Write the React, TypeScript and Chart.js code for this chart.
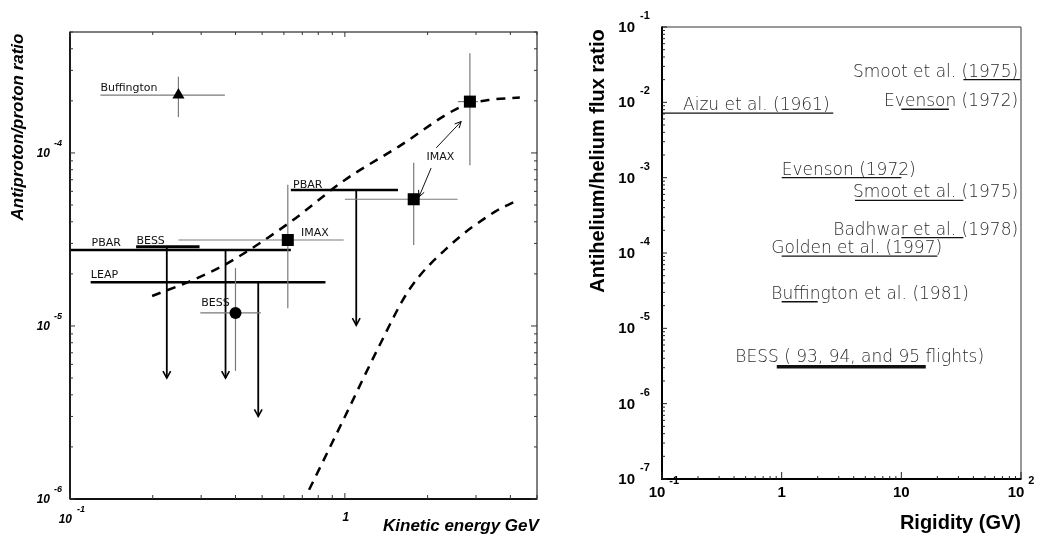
import React, { useEffect, useRef } from "react";
import { Chart, registerables } from "chart.js";

Chart.register(...registerables);

// ================= LEFT PANEL: antiproton / proton ratio =================
// Dashed model curves (kinetic energy GeV, ratio)
const upperCurveE = [0.199, 0.28, 0.368, 0.627, 1.0, 1.57, 2.65, 3.32, 4.33];
const upperCurveR = [1.49e-5, 1.845e-5, 2.27e-5, 3.94e-5, 6.98e-5, 1.088e-4, 1.85e-4, 2.02e-4, 2.09e-4];
const lowerCurveE = [0.741, 1.0, 1.33, 1.71, 2.38, 3.52, 4.15];
const lowerCurveR = [1.13e-6, 2.99e-6, 7.6e-6, 1.61e-5, 2.87e-5, 4.58e-5, 5.23e-5];

// Measurements with error bars
const measNames = ["Buffington", "IMAX", "IMAX", "IMAX", "BESS"];
const measE = [0.248, 2.85, 1.78, 0.62, 0.4];
const measR = [2.16e-4, 1.98e-4, 5.4e-5, 3.14e-5, 1.19e-5];
const measElo = [0.129, 2.58, 1.0, 0.248, 0.298];
const measEhi = [0.366, 3.05, 2.57, 0.99, 0.495];
const measRlo = [1.61e-4, 8.5e-5, 2.94e-5, 1.266e-5, 5.5e-6];
const measRhi = [2.76e-4, 3.77e-4, 8.79e-5, 6.54e-5, 2.16e-5];
const measShape = ["triangle", "rect", "rect", "rect", "circle"];

// Upper limits (horizontal bar + downward arrow)
const limNames = ["PBAR", "BESS", "LEAP", "PBAR"];
const limElo = [0.1, 0.174, 0.1189, 0.636];
const limEhi = [0.636, 0.296, 0.85, 1.56];
const limR = [2.75e-5, 2.87e-5, 1.79e-5, 6.11e-5];
const limArrowE = [0.368, 0.225, 0.484, 1.1];
const limArrowTip = [5.0e-6, 5.0e-6, 3.0e-6, 1.01e-5];

// IMAX pointer arrows (from label to points)
const pointerFromE = [2.15, 2.06];
const pointerFromR = [1.07e-4, 8.19e-5];
const pointerToE = [2.65, 1.86];
const pointerToR = [1.52e-4, 5.57e-5];

// Text annotations (anchor in data coordinates, left-aligned)
const leftTextItems = [
  { t: "Buffington", e: 0.129, r: 2.38e-4 },
  { t: "PBAR", e: 0.1198, r: 3.02e-5 },
  { t: "BESS", e: 0.1744, r: 3.1e-5 },
  { t: "LEAP", e: 0.1191, r: 1.97e-5 },
  { t: "BESS", e: 0.3, r: 1.35e-5 },
  { t: "IMAX", e: 0.693, r: 3.45e-5 },
  { t: "PBAR", e: 0.648, r: 6.54e-5 },
  { t: "IMAX", e: 1.98, r: 9.48e-5 },
];

const leftXMin = 0.1, leftXMax = 5;
const leftYMin = 1e-6, leftYMax = 5e-4;
const leftYMajor = [1e-6, 1e-5, 1e-4];
const leftYMajorExp = ["-6", "-5", "-4"];

// ================= RIGHT PANEL: antihelium / helium flux ratio =================
const heNames = [
  "Smoot et al. (1975)",
  "Evenson (1972)",
  "Aizu et al. (1961)",
  "Evenson (1972)",
  "Smoot et al. (1975)",
  "Badhwar et al. (1978)",
  "Golden et al. (1997)",
  "Buffington et al. (1981)",
  "BESS ( 93, 94, and 95 flights)",
];
const heRigLo = [33, 10, 0.1, 1, 4.1, 10, 1, 1, 0.91];
const heRigHi = [100, 25, 2.7, 10, 33, 33, 20, 2, 16];
const heRatio = [2.0e-2, 8.1e-3, 7.2e-3, 1.0e-3, 5.0e-4, 1.6e-4, 9.1e-5, 2.25e-5, 3.1e-6];
const heLabelX = [94.6, 94.6, 0.15, 1.0, 94.6, 94.6, 0.82, 0.82, 0.41];
const heLabelAlign = ["right", "right", "left", "left", "right", "right", "left", "left", "left"];

const rightXMin = 0.1, rightXMax = 100;
const rightYMin = 1e-7, rightYMax = 1e-1;
const rightXMajor = [0.1, 1, 10, 100];
const rightXMajorBase = ["10", "1", "10", "10"];
const rightXMajorExp = ["-1", "", "", "2"];
const rightYMajor = [1e-7, 1e-6, 1e-5, 1e-4, 1e-3, 1e-2, 1e-1];
const rightYMajorExp = ["-7", "-6", "-5", "-4", "-3", "-2", "-1"];

// ================= helpers =================
function logTicks(min: number, max: number) {
  const out: { v: number; major: boolean }[] = [];
  for (let e = Math.floor(Math.log10(min)) - 1; e <= Math.ceil(Math.log10(max)); e++) {
    for (let m = 1; m < 10; m++) {
      const v = m * Math.pow(10, e);
      if (v >= min * 0.999 && v <= max * 1.001) out.push({ v, major: m === 1 });
    }
  }
  return out;
}

function seg(x1: number, y1: number, x2: number, y2: number, color: string, width: number, extra: any = {}) {
  return {
    data: [
      { x: x1, y: y1 },
      { x: x2, y: y2 },
    ],
    showLine: true,
    borderColor: color,
    borderWidth: width,
    pointRadius: 0,
    borderCapStyle: "butt",
    ...extra,
  };
}

function line(ctx: CanvasRenderingContext2D, x1: number, y1: number, x2: number, y2: number) {
  ctx.beginPath();
  ctx.moveTo(x1, y1);
  ctx.lineTo(x2, y2);
  ctx.stroke();
}

function arrowHead(ctx: CanvasRenderingContext2D, fx: number, fy: number, tx: number, ty: number, len: number, half: number) {
  const ang = Math.atan2(ty - fy, tx - fx);
  const a1 = ang + Math.PI - half;
  const a2 = ang + Math.PI + half;
  ctx.beginPath();
  ctx.moveTo(tx + len * Math.cos(a1), ty + len * Math.sin(a1));
  ctx.lineTo(tx, ty);
  ctx.lineTo(tx + len * Math.cos(a2), ty + len * Math.sin(a2));
  ctx.stroke();
}

function leftConfig(): any {
  const datasets: any[] = [];
  // markers on top
  datasets.push({
    data: measE.map((e, i) => ({ x: e, y: measR[i] })),
    showLine: false,
    pointStyle: measShape,
    pointRadius: measShape.map((s) => (s === "rect" ? 8.5 : s === "triangle" ? 7 : 6)),
    backgroundColor: "#000",
    borderColor: "#000",
    borderWidth: 0,
  });
  // error bars
  measE.forEach((e, i) => {
    datasets.push(seg(measElo[i], measR[i], measEhi[i], measR[i], "#7a7a7a", 1.2));
    datasets.push(seg(e, measRlo[i], e, measRhi[i], "#7a7a7a", 1.2));
  });
  // upper limits
  limElo.forEach((lo, i) => {
    datasets.push(seg(lo, limR[i], limEhi[i], limR[i], "#000", i === 1 ? 3 : 2.4));
    datasets.push(seg(limArrowE[i], limR[i], limArrowE[i], limArrowTip[i], "#000", 1.8));
  });
  // IMAX pointers
  pointerFromE.forEach((e, i) => {
    datasets.push(seg(e, pointerFromR[i], pointerToE[i], pointerToR[i], "#111", 1));
  });
  // dashed curves
  datasets.push({
    data: upperCurveE.map((e, i) => ({ x: e, y: upperCurveR[i] })),
    showLine: true,
    borderColor: "#000",
    borderWidth: 2.5,
    borderDash: [9, 7],
    pointRadius: 0,
    cubicInterpolationMode: "monotone",
  });
  datasets.push({
    data: lowerCurveE.map((e, i) => ({ x: e, y: lowerCurveR[i] })),
    showLine: true,
    borderColor: "#000",
    borderWidth: 2.5,
    borderDash: [9, 7],
    pointRadius: 0,
    cubicInterpolationMode: "monotone",
  });

  const deco = {
    id: "leftDeco",
    afterDatasetsDraw(chart: any) {
      const ctx: CanvasRenderingContext2D = chart.ctx;
      const a = chart.chartArea;
      const x = chart.scales.x;
      const y = chart.scales.y;
      ctx.save();
      // arrowheads for upper limits
      ctx.strokeStyle = "#000";
      ctx.lineWidth = 1.6;
      limArrowE.forEach((e, i) => {
        const px = x.getPixelForValue(e);
        const py = y.getPixelForValue(limArrowTip[i]);
        const py0 = y.getPixelForValue(limR[i]);
        arrowHead(ctx, px, py0, px, py, 8, 0.5);
      });
      // pointer arrowheads
      ctx.lineWidth = 1;
      pointerFromE.forEach((e, i) => {
        arrowHead(
          ctx,
          x.getPixelForValue(e),
          y.getPixelForValue(pointerFromR[i]),
          x.getPixelForValue(pointerToE[i]),
          y.getPixelForValue(pointerToR[i]),
          7,
          0.45
        );
      });
      // frame
      ctx.strokeStyle = "#555";
      ctx.lineWidth = 1.5;
      ctx.strokeRect(a.left, a.top, a.right - a.left, a.bottom - a.top);
      ctx.strokeStyle = "#111";
      ctx.lineWidth = 1.8;
      line(ctx, a.left, a.top, a.left, a.bottom);
      line(ctx, a.left, a.bottom, a.right, a.bottom);
      // ticks
      ctx.lineWidth = 1;
      ctx.strokeStyle = "#333";
      logTicks(leftXMin, leftXMax).forEach((t) => {
        const px = x.getPixelForValue(t.v);
        line(ctx, px, a.bottom, px, a.bottom - (t.major ? 6 : 4));
        line(ctx, px, a.top, px, a.top + (t.major ? 5 : 3));
      });
      logTicks(leftYMin, leftYMax).forEach((t) => {
        const py = y.getPixelForValue(t.v);
        line(ctx, a.left, py, a.left + (t.major ? 5 : 3), py);
        line(ctx, a.right, py, a.right - (t.major ? 6 : 3), py);
      });
      // tick labels
      ctx.fillStyle = "#000";
      ctx.textBaseline = "middle";
      leftYMajor.forEach((v, i) => {
        const py = y.getPixelForValue(v);
        ctx.font = "italic bold 12px 'Liberation Sans', Arial, sans-serif";
        ctx.textAlign = "right";
        ctx.fillText("10", a.left - 20, py + 1);
        ctx.font = "italic bold 9px 'Liberation Sans', Arial, sans-serif";
        ctx.textAlign = "left";
        ctx.fillText(leftYMajorExp[i], a.left - 16, py - 9);
      });
      {
        const px = x.getPixelForValue(0.1);
        ctx.font = "italic bold 12px 'Liberation Sans', Arial, sans-serif";
        ctx.textAlign = "right";
        ctx.fillText("10", px + 2, a.bottom + 21);
        ctx.font = "italic bold 9px 'Liberation Sans', Arial, sans-serif";
        ctx.textAlign = "left";
        ctx.fillText("-1", px + 7, a.bottom + 11);
        const p1 = x.getPixelForValue(1);
        ctx.font = "italic bold 12px 'Liberation Sans', Arial, sans-serif";
        ctx.textAlign = "center";
        ctx.fillText("1", p1 + 1, a.bottom + 19);
      }
      // axis titles
      ctx.font = "italic bold 17px 'Liberation Sans', Arial, sans-serif";
      ctx.save();
      ctx.translate(18, 127);
      ctx.rotate(-Math.PI / 2);
      ctx.textAlign = "center";
      ctx.fillText("Antiproton/proton ratio", 0, 0);
      ctx.restore();
      ctx.font = "italic bold 17px 'Liberation Sans', Arial, sans-serif";
      ctx.textAlign = "left";
      ctx.fillText("Kinetic energy GeV", 383, 526);
      // annotations
      ctx.font = "11px 'DejaVu Sans', sans-serif";
      ctx.fillStyle = "#111";
      ctx.textAlign = "left";
      leftTextItems.forEach((it) => {
        ctx.fillText(it.t, x.getPixelForValue(it.e), y.getPixelForValue(it.r));
      });
      ctx.restore();
    },
  };

  return {
    type: "scatter",
    data: { datasets },
    options: {
      responsive: false,
      animation: false,
      events: [],
      layout: { padding: { left: 70, right: 23, top: 32, bottom: 39 } },
      plugins: { legend: { display: false }, tooltip: { enabled: false } },
      scales: {
        x: { type: "logarithmic", min: leftXMin, max: leftXMax, display: false },
        y: { type: "logarithmic", min: leftYMin, max: leftYMax, display: false },
      },
    },
    plugins: [deco],
  };
}

function rightConfig(): any {
  const datasets: any[] = heRatio.map((r, i) =>
    seg(heRigLo[i], r, heRigHi[i], r, "#111", i === heRatio.length - 1 ? 3.5 : 1.4)
  );
  const deco = {
    id: "rightDeco",
    afterDatasetsDraw(chart: any) {
      const ctx: CanvasRenderingContext2D = chart.ctx;
      const a = chart.chartArea;
      const x = chart.scales.x;
      const y = chart.scales.y;
      ctx.save();
      // frame
      ctx.strokeStyle = "#777";
      ctx.lineWidth = 1.5;
      line(ctx, a.left, a.top, a.right, a.top);
      line(ctx, a.right, a.top, a.right, a.bottom);
      ctx.strokeStyle = "#000";
      ctx.lineWidth = 2;
      line(ctx, a.left, a.top - 0.5, a.left, a.bottom + 1);
      line(ctx, a.left - 1, a.bottom, a.right + 0.5, a.bottom);
      // ticks
      ctx.lineWidth = 1;
      ctx.strokeStyle = "#222";
      logTicks(rightXMin, rightXMax).forEach((t) => {
        const px = x.getPixelForValue(t.v);
        line(ctx, px, a.bottom, px, a.bottom - (t.major ? 7 : 3));
      });
      logTicks(rightYMin, rightYMax).forEach((t) => {
        const py = y.getPixelForValue(t.v);
        line(ctx, a.left, py, a.left + (t.major ? 5 : 3), py);
      });
      // tick labels
      ctx.fillStyle = "#000";
      ctx.textBaseline = "middle";
      rightYMajor.forEach((v, i) => {
        const py = y.getPixelForValue(v);
        ctx.font = "bold 15px 'Liberation Sans', Arial, sans-serif";
        ctx.textAlign = "right";
        ctx.fillText("10", a.left - 27, py + 1);
        ctx.font = "bold 11px 'Liberation Sans', Arial, sans-serif";
        ctx.textAlign = "left";
        ctx.fillText(rightYMajorExp[i], a.left - 22, py - 11);
      });
      rightXMajor.forEach((v, i) => {
        const px = x.getPixelForValue(v);
        ctx.font = "bold 15px 'Liberation Sans', Arial, sans-serif";
        ctx.textAlign = "center";
        if (rightXMajorExp[i]) {
          const cx = px - 5;
          ctx.fillText(rightXMajorBase[i], cx, a.bottom + 14);
          const w = ctx.measureText(rightXMajorBase[i]).width;
          ctx.font = "bold 11px 'Liberation Sans', Arial, sans-serif";
          ctx.textAlign = "left";
          ctx.fillText(rightXMajorExp[i], cx + w / 2 + 4, a.bottom + 2);
        } else {
          ctx.fillText(rightXMajorBase[i], px, a.bottom + 14);
        }
      });
      // axis titles
      ctx.font = "bold 20px 'Liberation Sans', Arial, sans-serif";
      ctx.textAlign = "right";
      ctx.fillText("Rigidity (GV)", a.right, 523);
      ctx.save();
      ctx.translate(38, 161);
      ctx.rotate(-Math.PI / 2);
      ctx.textAlign = "center";
      ctx.fillText("Antihelium/helium flux ratio", 0, 0);
      ctx.restore();
      // labels
      ctx.font = "200 17px 'DejaVu Sans', sans-serif";
      ctx.fillStyle = "#2a2a2a";
      ctx.textBaseline = "alphabetic";
      heNames.forEach((n, i) => {
        ctx.textAlign = heLabelAlign[i] as CanvasTextAlign;
        const py = y.getPixelForValue(heRatio[i]) - (i === heNames.length - 1 ? 5 : 3);
        ctx.fillText(n, x.getPixelForValue(heLabelX[i]), py);
      });
      ctx.restore();
    },
  };
  return {
    type: "scatter",
    data: { datasets },
    options: {
      responsive: false,
      animation: false,
      events: [],
      layout: { padding: { left: 102, right: 21, top: 27, bottom: 59 } },
      plugins: { legend: { display: false }, tooltip: { enabled: false } },
      scales: {
        x: { type: "logarithmic", min: rightXMin, max: rightXMax, display: false },
        y: { type: "logarithmic", min: rightYMin, max: rightYMax, display: false },
      },
    },
    plugins: [deco],
  };
}

export default function App() {
  const leftRef = useRef<HTMLCanvasElement>(null);
  const rightRef = useRef<HTMLCanvasElement>(null);
  useEffect(() => {
    const c1 = new Chart(leftRef.current as HTMLCanvasElement, leftConfig());
    const c2 = new Chart(rightRef.current as HTMLCanvasElement, rightConfig());
    return () => {
      c1.destroy();
      c2.destroy();
    };
  }, []);
  return (
    <div style={{ position: "absolute", left: 0, top: 0, width: 1042, height: 538, background: "#fff", overflow: "hidden" }}>
      <canvas ref={leftRef} width={560} height={538} style={{ position: "absolute", left: 0, top: 0, width: 560, height: 538 }} />
      <canvas ref={rightRef} width={482} height={538} style={{ position: "absolute", left: 560, top: 0, width: 482, height: 538 }} />
    </div>
  );
}
